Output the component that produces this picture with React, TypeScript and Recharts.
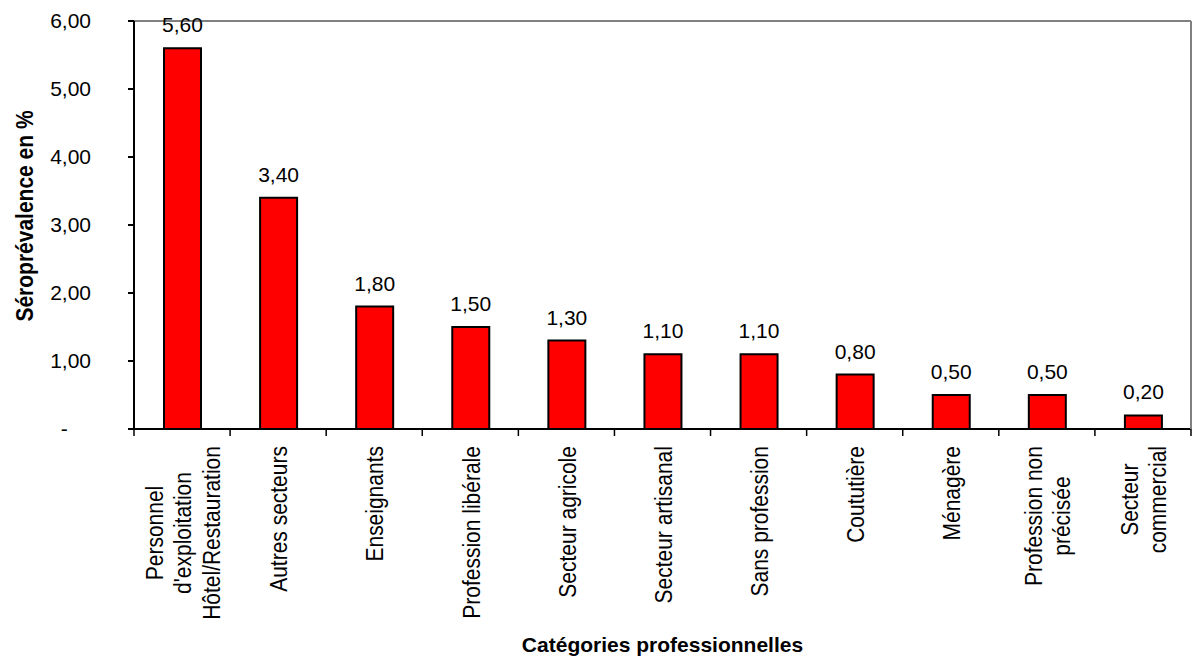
import React from "react";
import {
  Bar,
  BarChart,
  LabelList,
  ReferenceLine,
  XAxis,
  YAxis,
} from "recharts";

const categories = [
  "Personnel d'exploitation Hôtel/Restauration",
  "Autres secteurs",
  "Enseignants",
  "Profession libérale",
  "Secteur agricole",
  "Secteur artisanal",
  "Sans profession",
  "Coututière",
  "Ménagère",
  "Profession non précisée",
  "Secteur commercial",
];

const tickLines = [
  ["Personnel", "d'exploitation", "Hôtel/Restauration"],
  ["Autres secteurs"],
  ["Enseignants"],
  ["Profession libérale"],
  ["Secteur agricole"],
  ["Secteur artisanal"],
  ["Sans profession"],
  ["Coututière"],
  ["Ménagère"],
  ["Profession non", "précisée"],
  ["Secteur", "commercial"],
];

const values = [5.6, 3.4, 1.8, 1.5, 1.3, 1.1, 1.1, 0.8, 0.5, 0.5, 0.2];

const yTicks = [0, 1, 2, 3, 4, 5, 6];

const data = categories.map((name, i) => ({ name, value: values[i] }));

const W = 1192;
const H = 659;
const Y_W = 134;
const R_W = 1;
const X_H = 230;
const BAND = (W - Y_W - R_W) / categories.length;
const FONT = '"Liberation Sans", Arial, sans-serif';

let ctx: CanvasRenderingContext2D | null = null;
const measure = (s: string, bold = false) => {
  if (!ctx) ctx = document.createElement("canvas").getContext("2d");
  if (!ctx) return s.length * 11;
  ctx.font = `${bold ? "bold " : ""}21px "Liberation Sans"`;
  return ctx.measureText(s).width;
};

const fmt = (v: number) => v.toFixed(2).replace(".", ",");

const XTick = ({ x, y, payload }: any) => {
  const i = categories.indexOf(payload.value);
  const lines = tickLines[i] || [String(payload.value)];
  const maxW = Math.max(...lines.map((t) => measure(t)));
  const cy = y + 17 + maxW / 2;
  const left = x - BAND / 2;
  return (
    <g>
      <line x1={left} y1={y} x2={left} y2={y + 7} stroke="#000" strokeWidth={1.5} />
      {i === categories.length - 1 && (
        <line x1={x + BAND / 2} y1={y} x2={x + BAND / 2} y2={y + 7} stroke="#000" strokeWidth={1.5} />
      )}
      {lines.map((t, k) => (
        <g
          key={k}
          transform={`translate(${x + (k - (lines.length - 1) / 2) * 28.5}, ${cy}) rotate(-90) scale(1, 1.15)`}
        >
          <text textAnchor="middle" dy="0.38em" fontSize={21} fill="#000" fontFamily={FONT}>
            {t}
          </text>
        </g>
      ))}
    </g>
  );
};

const YTick = ({ x, y, payload }: any) => {
  const v = payload.value;
  const pad = v === 0 ? measure("00") : 0;
  return (
    <text x={x - pad} y={y} dy="0.355em" textAnchor="end" fontSize={21} fill="#000" fontFamily={FONT}>
      {v === 0 ? "-" : fmt(v)}
    </text>
  );
};

const SeroChart = () => {
  return (
    <div style={{ position: "absolute", left: 0, top: 0, background: "#fff" }}>
      <BarChart
        width={W}
        height={H}
        data={data}
        margin={{ top: 21, right: 0, left: 0, bottom: 0 }}
        style={{ fontFamily: FONT }}
      >
        <XAxis
          dataKey="name"
          height={X_H}
          interval={0}
          tickLine={false}
          tickSize={0}
          tickMargin={0}
          tick={<XTick />}
          axisLine={{ stroke: "#000", strokeWidth: 2 }}
        />
        <YAxis
          domain={[0, 6]}
          ticks={yTicks}
          interval={0}
          width={Y_W}
          tickSize={6}
          tickMargin={37}
          tick={<YTick />}
          axisLine={{ stroke: "#000", strokeWidth: 2 }}
          tickLine={{ stroke: "#000", strokeWidth: 2 }}
        />
        <YAxis
          yAxisId="r"
          orientation="right"
          width={R_W}
          domain={[0, 6]}
          tick={false}
          tickLine={false}
          axisLine={{ stroke: "#808080", strokeWidth: 2 }}
        />
        <ReferenceLine y={6} stroke="#808080" strokeWidth={2} />
        <Bar
          dataKey="value"
          fill="#ff0000"
          stroke="#000"
          strokeWidth={2}
          barSize={37}
          isAnimationActive={false}
        >
          <LabelList
            dataKey="value"
            position="top"
            offset={16}
            formatter={(v: any) => fmt(Number(v))}
            fill="#000"
            stroke="none"
            fontSize={21}
            fontFamily={FONT}
          />
        </Bar>
        <text
          transform={`translate(32.5, 216) rotate(-90) scale(1, 1.15)`}
          textAnchor="middle"
          fontSize={21}
          fontWeight="bold"
          fill="#000"
          fontFamily={FONT}
        >
          Séroprévalence en %
        </text>
        <text
          x={(Y_W + W - R_W) / 2}
          y={652}
          textAnchor="middle"
          fontSize={21}
          fontWeight="bold"
          fill="#000"
          fontFamily={FONT}
        >
          Catégories professionnelles
        </text>
      </BarChart>
    </div>
  );
};

export default function App() {
  return <SeroChart />;
}
